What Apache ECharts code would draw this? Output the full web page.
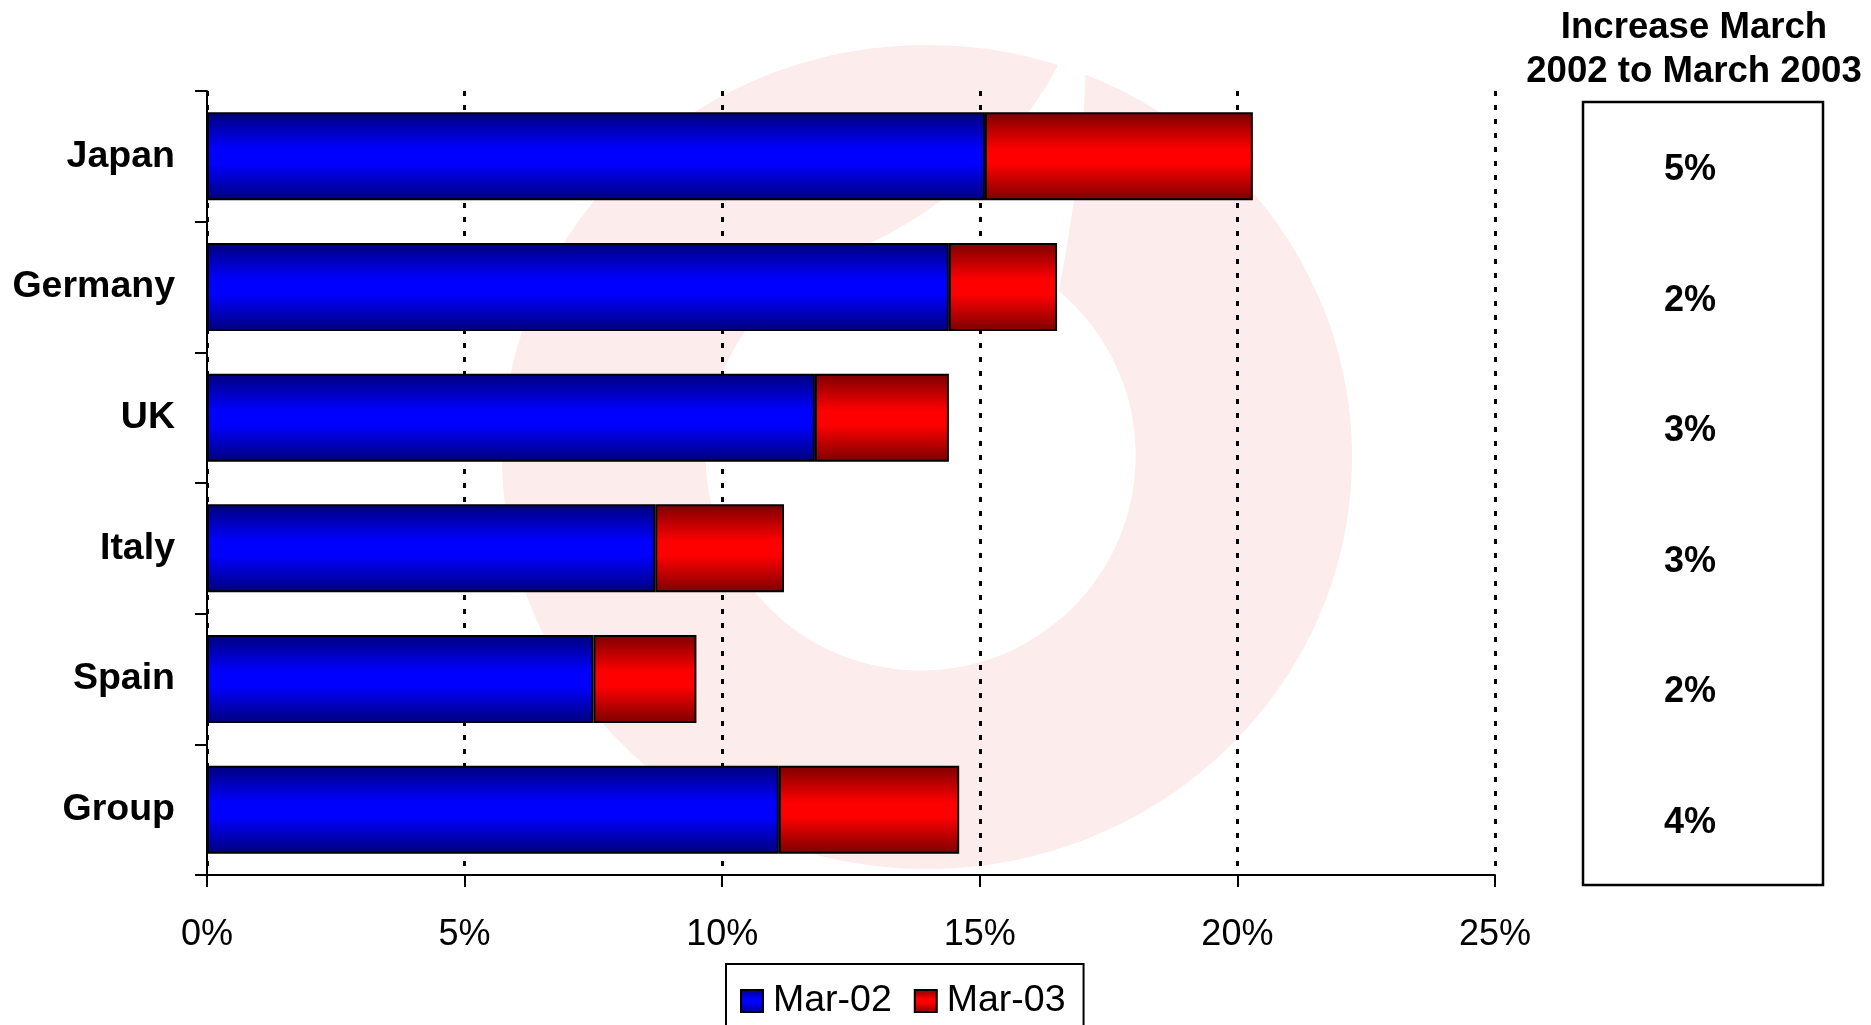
<!DOCTYPE html>
<html>
<head>
<meta charset="utf-8">
<title>Mobile data revenue share</title>
<script src="https://cdn.jsdelivr.net/npm/echarts@6/dist/echarts.min.js"></script>
<style>
  html, body { margin: 0; padding: 0; background: #ffffff; }
  #chart { width: 1871px; height: 1025px; }
</style>
</head>
<body>
<div id="chart"></div>
<script>
// Markets, top to bottom
const categories = ['Japan', 'Germany', 'UK', 'Italy', 'Spain', 'Group'];
// Share at March 2002 (%)
const mar02 = [15.1, 14.4, 11.8, 8.7, 7.5, 11.1];
// Growth from March 2002 to March 2003 (percentage points), stacked on top
const increase = [5.2, 2.1, 2.6, 2.5, 2.0, 3.5];
const seriesNames = ['Mar-02', 'Mar-03'];
const sideTitle = 'Increase March\n2002 to March 2003';

const FONT = '"Liberation Sans", Arial, Helvetica, sans-serif';

// white "speech mark" cut-out of the watermark logo: round body with a thin
// tail that runs up to the rim at the top right
echarts.graphic.registerShape('logoMark', echarts.graphic.extendPath(
  'M 1062 58 L 1086 62 ' +
  'C 1084 150 1070 230 1059 291 ' +
  'A 215 215 0 1 1 836 258 ' +
  'C 915 228 1005 168 1062 58 Z', {}
));

function barGradient(dark, bright) {
  return new echarts.graphic.LinearGradient(0, 0, 0, 1, [
    { offset: 0, color: dark },
    { offset: 0.42, color: bright },
    { offset: 0.58, color: bright },
    { offset: 1, color: dark }
  ]);
}

const chart = echarts.init(document.getElementById('chart'), null, { renderer: 'canvas' });

const option = {
  backgroundColor: '#ffffff',
  animation: false,
  textStyle: { fontFamily: FONT },
  graphic: [
    {
      type: 'ellipse', z: -10, silent: true,
      shape: { cx: 927, cy: 457, rx: 425, ry: 412 },
      style: { fill: '#fdecec' }
    },
    {
      type: 'logoMark', z: -9, silent: true,
      style: { fill: '#ffffff' }
    },
    {
      type: 'text', x: 1694, y: 6,
      style: {
        text: sideTitle, fill: '#000',
        fontSize: 36.6, fontWeight: 'bold', fontFamily: FONT,
        lineHeight: 44, align: 'center', verticalAlign: 'top'
      }
    }
  ],
  legend: {
    data: seriesNames,
    left: 726, top: 964,
    orient: 'horizontal',
    icon: 'rect',
    itemWidth: 22, itemHeight: 22, itemGap: 22,
    padding: [18, 18, 10, 14],
    borderColor: '#000', borderWidth: 2,
    backgroundColor: '#ffffff',
    selectedMode: false,
    textStyle: { fontSize: 37.5, color: '#000', fontFamily: FONT, padding: [0, 0, 0, 5] }
  },
  grid: [
    { left: 207, right: 376, top: 91, bottom: 150, containLabel: false, outerBoundsMode: 'none' },
    {
      left: 1583, top: 102, width: 240, height: 783, show: true,
      borderColor: '#000', borderWidth: 2.5, backgroundColor: 'transparent',
      containLabel: false, outerBoundsMode: 'none'
    }
  ],
  xAxis: [
    {
      type: 'value', gridIndex: 0, min: 0, max: 25, interval: 5,
      axisLine: { show: true, lineStyle: { color: '#000', width: 2 } },
      axisTick: { show: true, length: 12, inside: false, lineStyle: { color: '#000', width: 2 } },
      axisLabel: { formatter: '{value}%', fontSize: 36, color: '#000', margin: 42, fontFamily: FONT },
      splitLine: { show: true, lineStyle: { color: '#000', width: 3, type: [5, 9] } }
    },
    { type: 'value', gridIndex: 1, min: 0, max: 1, show: false }
  ],
  yAxis: [
    {
      type: 'category', gridIndex: 0, data: categories, inverse: true,
      axisLine: { show: true, lineStyle: { color: '#000', width: 2 } },
      axisTick: { show: true, length: 12, inside: false, lineStyle: { color: '#000', width: 2 } },
      axisLabel: {
        fontSize: 37.5, fontWeight: 'bold', color: '#000', margin: 32,
        padding: [6, 0, 0, 0], fontFamily: FONT
      },
      splitLine: { show: false }
    },
    { type: 'category', gridIndex: 1, data: categories, inverse: true, show: false }
  ],
  series: [
    {
      name: seriesNames[0], type: 'bar', stack: 'share',
      xAxisIndex: 0, yAxisIndex: 0,
      barWidth: 88,
      data: mar02,
      itemStyle: { color: barGradient('#00007c', '#0000ff'), borderColor: '#000', borderWidth: 2 }
    },
    {
      name: seriesNames[1], type: 'bar', stack: 'share',
      xAxisIndex: 0, yAxisIndex: 0,
      barWidth: 88,
      data: increase,
      itemStyle: { color: barGradient('#7c0000', '#ff0000'), borderColor: '#000', borderWidth: 2 }
    },
    {
      // rounded growth figures in the side box
      name: 'increase', type: 'scatter',
      xAxisIndex: 1, yAxisIndex: 1,
      symbolSize: 0,
      itemStyle: { color: '#000', opacity: 1 },
      data: categories.map((c, i) => [0.5, c, increase[i]]),
      label: {
        show: true, position: 'inside', offset: [-13, 3],
        formatter: p => Math.round(p.value[2]) + '%',
        fontSize: 36, fontWeight: 'bold', color: '#000', opacity: 1,
        textBorderWidth: 0, fontFamily: FONT
      },
      emphasis: { disabled: true },
      silent: true
    }
  ]
};

chart.setOption(option);
</script>
</body>
</html>
